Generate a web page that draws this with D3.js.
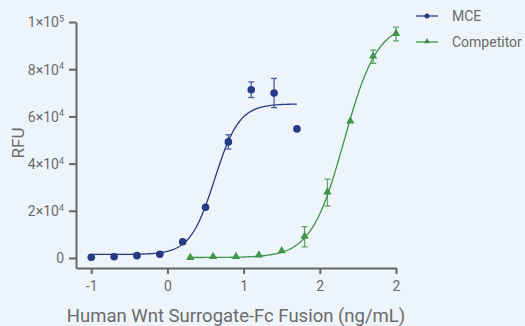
<!DOCTYPE html>
<html>
<head>
<meta charset="utf-8">
<script src="https://cdn.jsdelivr.net/npm/d3@7"></script>
<style>
body{margin:0;background:#edf5fa;}
text{font-family:Roboto,"Open Sans",sans-serif;fill:#6b6b6b;}
</style>
</head>
<body>
<div id="chart"></div>
<script>
// log10 concentration of each point
var mceX = [-1, -0.7, -0.4, -0.1, 0.2, 0.5, 0.8, 1.1, 1.4, 1.7];
var mceY = [300, 550, 1000, 1600, 6900, 21500, 49200, 71300, 69900, 54700];
var mceErr = [0, 0, 0, 0, 0, 0, 3000, 3300, 6200, 0];
var compX = [0.3, 0.6, 0.9, 1.2, 1.5, 1.8, 2.1, 2.4, 2.7, 3.0];
var compY = [0, 400, 400, 1000, 2800, 9000, 27700, 57800, 85300, 94900];
var compErr = [0, 0, 0, 0, 0, 4300, 5700, 0, 2800, 2900];
// 4PL fit: bottom, top, logEC50, hill
var mceFit = [1500, 65300, 0.62, 2.7];
var compFit = [200, 99500, 2.32, 2.0];
var xTicks = [-1, 0, 1, 2, 3];
var xTickLabels = ["-1", "0", "1", "2", "2"];
var yTicks = [0, 20000, 40000, 60000, 80000, 100000];
var yTickLabels = [["0", ""], ["2×10", "4"], ["4×10", "4"], ["6×10", "4"], ["8×10", "4"], ["1×10", "5"]];
var seriesNames = ["MCE", "Competitor"];

var width = 525, height = 326;
var blue = "#263a86", green = "#3f9447";

var svg = d3.select("#chart").append("svg")
  .attr("width", width)
  .attr("height", height);

var x = d3.scaleLinear().domain([-1.2, 3]).range([76, 396]);
var y = d3.scaleLinear().domain([-4240, 100000]).range([268, 22]);

// axes
var xAxis = svg.append("g")
  .attr("transform", "translate(0,268)")
  .call(d3.axisBottom(x).tickValues(xTicks).tickSize(6).tickSizeOuter(0)
    .tickFormat(function(d, i) { return xTickLabels[i]; }));
var yAxis = svg.append("g")
  .attr("transform", "translate(76,0)")
  .call(d3.axisLeft(y).tickValues(yTicks).tickSize(7).tickSizeOuter(0).tickFormat(""));

svg.selectAll(".domain, .tick line").attr("stroke", "#666").attr("stroke-width", 2);
xAxis.selectAll("text").attr("font-size", 14).attr("dy", "1.0em").style("fill", "#6b6b6b");

// y tick labels with superscript
yAxis.selectAll(".tick").each(function(d, i) {
  var t = d3.select(this).append("text")
    .attr("x", -12).attr("dy", "0.35em")
    .attr("text-anchor", "end")
    .attr("font-size", 14)
    .style("fill", "#6b6b6b");
  t.append("tspan").text(yTickLabels[i][0]);
  if (yTickLabels[i][1]) t.append("tspan").attr("font-size", 9).attr("dy", "-0.6em").text(yTickLabels[i][1]);
});

// axis titles
svg.append("text")
  .attr("transform", "translate(24,143) rotate(-90)")
  .attr("text-anchor", "middle")
  .attr("font-size", 17)
  .text("RFU");
svg.append("text")
  .attr("x", 236).attr("y", 322)
  .attr("text-anchor", "middle")
  .attr("font-size", 18.5)
  .text("Human Wnt Surrogate-Fc Fusion (ng/mL)");

function fourPL(p) {
  return function(v) { return p[0] + (p[1] - p[0]) / (1 + Math.pow(10, (p[2] - v) * p[3])); };
}

function drawCurve(xs, p, color) {
  var f = fourPL(p);
  var steps = d3.range(xs[0], xs[xs.length - 1] + 0.001, 0.02);
  svg.append("path")
    .datum(steps)
    .attr("fill", "none")
    .attr("stroke", color)
    .attr("stroke-width", 1.3)
    .attr("d", d3.line().x(function(d) { return x(d); }).y(function(d) { return y(f(d)); }));
}

function drawErrors(xs, ys, es, color) {
  var g = svg.append("g").attr("stroke", color).attr("stroke-width", 1.3).attr("opacity", 0.8);
  xs.forEach(function(xv, i) {
    if (!es[i]) return;
    var cx = x(xv), y0 = y(ys[i] - es[i]), y1 = y(ys[i] + es[i]);
    g.append("line").attr("x1", cx).attr("x2", cx).attr("y1", y0).attr("y2", y1);
    g.append("line").attr("x1", cx - 3).attr("x2", cx + 3).attr("y1", y0).attr("y2", y0);
    g.append("line").attr("x1", cx - 3).attr("x2", cx + 3).attr("y1", y1).attr("y2", y1);
  });
}

drawCurve(mceX, mceFit, blue);
drawCurve(compX, compFit, green);
drawErrors(mceX, mceY, mceErr, blue);
drawErrors(compX, compY, compErr, green);

svg.append("g").selectAll("circle")
  .data(mceX)
  .enter()
  .append("circle")
  .attr("cx", function(d) { return x(d); })
  .attr("cy", function(d, i) { return y(mceY[i]); })
  .attr("r", 3.8)
  .attr("fill", blue);

var tri = d3.symbol().type(d3.symbolTriangle).size(30);
svg.append("g").selectAll("path")
  .data(compX)
  .enter()
  .append("path")
  .attr("d", tri)
  .attr("transform", function(d, i) { return "translate(" + x(d) + "," + (y(compY[i]) - 0.5) + ")"; })
  .attr("fill", green);

// legend
var leg = svg.append("g");
seriesNames.forEach(function(name, i) {
  var ly = 16 + i * 26, col = i == 0 ? blue : green;
  leg.append("line").attr("x1", 416).attr("x2", 438).attr("y1", ly).attr("y2", ly)
    .attr("stroke", col).attr("stroke-width", 1.3);
  if (i == 0) leg.append("circle").attr("cx", 427).attr("cy", ly).attr("r", 2.5).attr("fill", col);
  else leg.append("path").attr("d", d3.symbol().type(d3.symbolTriangle).size(16))
    .attr("transform", "translate(427," + (ly - 0.5) + ")").attr("fill", col);
  leg.append("text").attr("x", 452).attr("y", ly).attr("dy", "0.35em")
    .attr("font-size", 14).text(name);
});
</script>
</body>
</html>
